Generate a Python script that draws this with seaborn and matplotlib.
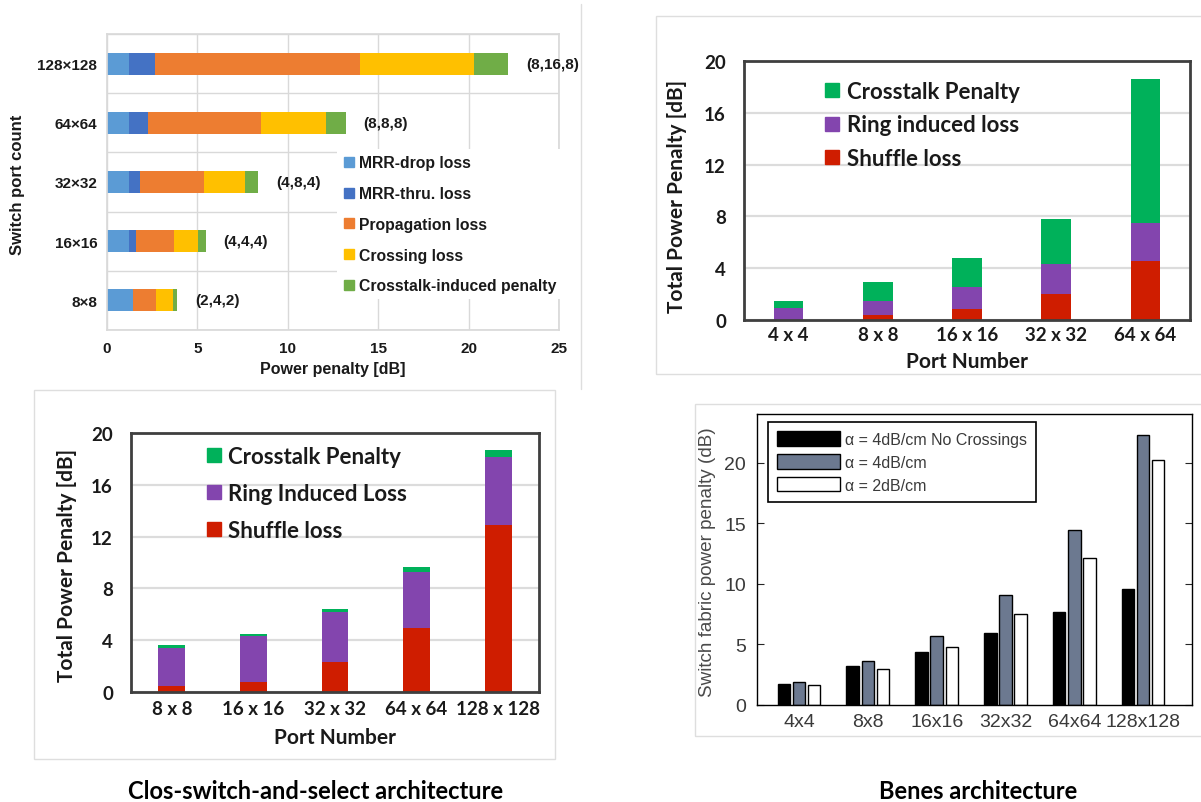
import numpy as np
import pandas as pd
import matplotlib
matplotlib.use("Agg")
import matplotlib.pyplot as plt
import seaborn as sns
from matplotlib.lines import Line2D
from matplotlib.patches import Patch, Rectangle

# ---------------- data ----------------
# Top-left: horizontal stacked power-penalty breakdown
a_ports = ["128×128", "64×64", "32×32", "16×16", "8×8"]
a_configs = ["(8,16,8)", "(8,8,8)", "(4,8,4)", "(4,4,4)", "(2,4,2)"]
a_mrr_drop = [1.2, 1.2, 1.2, 1.2, 1.44]
a_mrr_thru = [1.45, 1.05, 0.65, 0.43, 0.0]
a_propagation = [11.35, 6.25, 3.5, 2.07, 1.26]
a_crossing = [6.3, 3.6, 2.3, 1.35, 0.97]
a_crosstalk = [1.9, 1.1, 0.7, 0.4, 0.21]
a_series = ["MRR-drop loss", "MRR-thru. loss", "Propagation loss",
            "Crossing loss", "Crosstalk-induced penalty"]
a_ticks = [0, 5, 10, 15, 20, 25]

# Top-right
b_ports = ["4 x 4", "8 x 8", "16 x 16", "32 x 32", "64 x 64"]
b_shuffle = [0.0, 0.36, 0.82, 1.98, 4.56]
b_ring = [0.9, 1.14, 1.75, 2.32, 2.9]
b_crosstalk = [0.6, 1.4, 2.22, 3.5, 11.14]
b_series = ["Crosstalk Penalty", "Ring induced loss", "Shuffle loss"]

# Bottom-left
c_ports = ["8 x 8", "16 x 16", "32 x 32", "64 x 64", "128 x 128"]
c_shuffle = [0.46, 0.8, 2.3, 4.92, 12.87]
c_ring = [2.92, 3.5, 3.85, 4.31, 5.26]
c_crosstalk = [0.22, 0.15, 0.25, 0.44, 0.57]
c_series = ["Crosstalk Penalty", "Ring Induced Loss", "Shuffle loss"]
bc_ticks = [0, 4, 8, 12, 16, 20]

# Bottom-right
d_ports = ["4x4", "8x8", "16x16", "32x32", "64x64", "128x128"]
d_no_cross = [1.73, 3.18, 4.41, 5.97, 7.67, 9.59]
d_4db = [1.86, 3.64, 5.7, 9.04, 14.4, 22.27]
d_2db = [1.64, 3.01, 4.82, 7.48, 12.1, 20.2]
d_series = ["α = 4dB/cm No Crossings", "α = 4dB/cm", "α = 2dB/cm"]
d_ticks = [0, 5, 10, 15, 20]

captions = ["Clos-switch-and-select architecture", "Benes architecture"]

# ---------------- style ----------------
sns.set_theme(style="white")
plt.rcParams["font.family"] = ["Liberation Sans", "DejaVu Sans"]

a_colors = ["#5B9BD5", "#4472C4", "#ED7D31", "#FFC000", "#70AD47"]
GREEN, PURPLE, RED = "#00B15A", "#8345AE", "#CF1D00"
d_colors = ["#000000", "#6C7990", "#FFFFFF"]

W, H = 1201, 803
fig = plt.figure(figsize=(W / 100, H / 100), dpi=100)


def add_ax(x0, y0, x1, y1):
    ax = fig.add_axes([x0 / W, 1 - y1 / H, (x1 - x0) / W, (y1 - y0) / H])
    ax._px = (x0, y0, x1, y1)
    return ax


def set_xlabel_px(ax, text, yc, **kw):
    x0, y0, x1, y1 = ax._px
    ax.set_xlabel(text, va="center", ha="center", **kw)
    ax.xaxis.set_label_coords(0.5, (y1 - yc) / (y1 - y0))


def set_ylabel_px(ax, text, xc, yc, **kw):
    x0, y0, x1, y1 = ax._px
    ax.set_ylabel(text, va="center", ha="center", **kw)
    ax.yaxis.set_label_coords((xc - x0) / (x1 - x0), (y1 - yc) / (y1 - y0))


def stacked(ax, cats, layers, colors, orient, width):
    cum = np.cumsum(np.array(layers, dtype=float), axis=0)
    for k in range(len(layers) - 1, -1, -1):
        if orient == "h":
            sns.barplot(x=cum[k], y=cats, order=cats, orient="h", color=colors[k],
                        width=width, saturation=1, linewidth=0, ax=ax)
        else:
            sns.barplot(x=cats, y=cum[k], order=cats, color=colors[k],
                        width=width, saturation=1, linewidth=0, ax=ax)
    return cum[-1]


# ---------------- panel frames (light grey borders) ----------------
fg = "#DEDEDE"
fig.add_artist(Line2D([581 / W, 581 / W], [1 - 5 / H, 1 - 390 / H], color=fg, lw=1))
fig.add_artist(Rectangle((656 / W, 1 - 375 / H), (W - 656 + 5) / W, 358 / H,
                         fill=False, edgecolor=fg, lw=1))
fig.add_artist(Rectangle((34 / W, 1 - 760 / H), 521 / W, 369 / H,
                         fill=False, edgecolor=fg, lw=1))
fig.add_artist(Rectangle((695 / W, 1 - 737 / H), (W - 695 + 5) / W, 332 / H,
                         fill=False, edgecolor=fg, lw=1))

# ---------------- panel 1: top-left ----------------
ax1 = add_ax(107, 35, 559, 331)
tot1 = stacked(ax1, a_ports, [a_mrr_drop, a_mrr_thru, a_propagation, a_crossing, a_crosstalk],
               a_colors, "h", 0.37)
ax1.set_xlim(0, 25)
ax1.set_ylim(4.5, -0.5)
ax1.set_xticks(a_ticks)
ax1.set_yticks(range(len(a_ports)))
ax1.set_yticklabels(a_ports)
ax1.set_yticks(np.arange(-0.5, len(a_ports), 1), minor=True)
ax1.grid(axis="x", which="major", color="#D9D9D9", lw=1)
ax1.grid(axis="y", which="minor", color="#D9D9D9", lw=1)
ax1.set_axisbelow(True)
for s in ax1.spines.values():
    s.set_color("#D9D9D9")
ax1.tick_params(axis="both", which="both", length=0, labelsize=11, labelcolor="#1a1a1a")
ax1.tick_params(axis="x", pad=8)
ax1.tick_params(axis="y", pad=7)
for lab in ax1.get_xticklabels() + ax1.get_yticklabels():
    lab.set_fontweight("bold")
for i, (t, lbl) in enumerate(zip(tot1, a_configs)):
    ax1.text(t + 1.0, i, lbl, va="center", ha="left", fontsize=11, fontweight="bold",
             color="#1a1a1a", clip_on=False)
set_xlabel_px(ax1, "Power penalty [dB]", 370, fontsize=11.5, fontweight="bold", color="#1a1a1a")
set_ylabel_px(ax1, "Switch port count", 18, 185, fontsize=12, fontweight="bold", color="#1a1a1a")
h1 = [Line2D([], [], marker="s", ls="none", color=c, markersize=7) for c in a_colors]
ax1.legend(h1, a_series, loc="upper left", bbox_to_anchor=(0.509, 0.611),
           frameon=True, facecolor="white", edgecolor="none", framealpha=1, fancybox=False,
           prop=dict(family="Liberation Sans", weight="bold", size=11.3),
           labelspacing=1.0, handlelength=0.7, handletextpad=0.3, borderpad=0.4,
           borderaxespad=0, labelcolor="#1a1a1a")


# ---------------- panels 2 & 3 (Excel style) ----------------
def excel_panel(ax, cats, shuffle, ring, xtalk, labels, leg_anchor, lspacing, xpad):
    stacked(ax, cats, [shuffle, ring, xtalk], [RED, PURPLE, GREEN], "v", 0.33)
    ax.set_xlim(-0.5, len(cats) - 0.5)
    ax.set_ylim(0, 20)
    ax.set_yticks(bc_ticks)
    ax.grid(axis="y", color="#DCDCDC", lw=1.6)
    ax.set_axisbelow(True)
    for s in ax.spines.values():
        s.set_color("#3F3F3F")
        s.set_linewidth(2)
    ax.tick_params(axis="both", length=0, labelsize=13.5, labelcolor="#1a1a1a")
    ax.tick_params(axis="y", pad=13)
    ax.tick_params(axis="x", pad=xpad)
    for lab in ax.get_xticklabels() + ax.get_yticklabels():
        lab.set_fontfamily("Lato")
        lab.set_fontweight("bold")
    hh = [Line2D([], [], marker="s", ls="none", color=c, markersize=9.5)
          for c in [GREEN, PURPLE, RED]]
    ax.legend(hh, labels, loc="upper left", bbox_to_anchor=leg_anchor, frameon=False,
              prop=dict(family="Lato", weight="bold", size=16), labelcolor="#1a1a1a",
              labelspacing=lspacing, handlelength=0.6, handletextpad=0.35, borderpad=0,
              borderaxespad=0)


ax2 = add_ax(744, 62, 1190, 321)
excel_panel(ax2, b_ports, b_shuffle, b_ring, b_crosstalk, b_series, (0.183, 0.922), 0.55, 4)
set_xlabel_px(ax2, "Port Number", 362, fontsize=15, fontweight="bold", family="Lato", color="#1a1a1a")
set_ylabel_px(ax2, "Total Power Penalty [dB]", 677, 196, fontsize=15, fontweight="bold",
              family="Lato", color="#1a1a1a")

ax3 = add_ax(131, 434, 539, 693)
excel_panel(ax3, c_ports, c_shuffle, c_ring, c_crosstalk, c_series, (0.187, 0.95), 0.72, 6)
set_xlabel_px(ax3, "Port Number", 738, fontsize=15, fontweight="bold", family="Lato", color="#1a1a1a")
set_ylabel_px(ax3, "Total Power Penalty [dB]", 67, 565, fontsize=15, fontweight="bold",
              family="Lato", color="#1a1a1a")

# ---------------- panel 4: bottom-right (MATLAB style) ----------------
ax4 = add_ax(757, 415, 1192, 706)
df4 = pd.DataFrame({
    "port": d_ports * 3,
    "penalty": d_no_cross + d_4db + d_2db,
    "series": [d_series[0]] * len(d_ports) + [d_series[1]] * len(d_ports) + [d_series[2]] * len(d_ports),
})
sns.barplot(data=df4, x="port", y="penalty", hue="series", order=d_ports, hue_order=d_series,
            palette=d_colors, width=0.66, gap=0.18, edgecolor="black", linewidth=1,
            saturation=1, legend=False, ax=ax4)
ax4.set_xlim(-0.61, 5.71)
ax4.set_ylim(0, 24)
ax4.set_yticks(d_ticks)
for s in ax4.spines.values():
    s.set_color("black")
    s.set_linewidth(1)
ax4.tick_params(axis="y", direction="in", length=5, left=True, right=True, width=0.8,
                labelsize=14, labelcolor="#3a3a3a", pad=8)
ax4.tick_params(axis="x", length=0, labelsize=14, labelcolor="#3a3a3a", pad=6)
set_xlabel_px(ax4, "", 740)
set_ylabel_px(ax4, "Switch fabric power penalty (dB)", 708, 562, fontsize=13.6, color="#4a4a4a")
h4 = [Patch(facecolor=c, edgecolor="black", lw=1) for c in d_colors]
leg4 = ax4.legend(h4, d_series, loc="upper left", bbox_to_anchor=(0.025, 0.973),
                  frameon=True, fancybox=False, edgecolor="black", facecolor="white",
                  framealpha=1, fontsize=11.5, labelcolor="#3a3a3a",
                  handlelength=3.9, handleheight=1.0, handletextpad=0.3,
                  labelspacing=0.45, borderpad=0.6, borderaxespad=0)
leg4.get_frame().set_linewidth(1.2)

# ---------------- captions ----------------
fig.text(316 / W, 1 - 792 / H, captions[0], ha="center", va="center",
         fontsize=17, fontweight="bold", family="Lato", color="black")
fig.text(978 / W, 1 - 792 / H, captions[1], ha="center", va="center",
         fontsize=17, fontweight="bold", family="Lato", color="black")

fig.savefig("out.png", dpi=100, facecolor="white")
